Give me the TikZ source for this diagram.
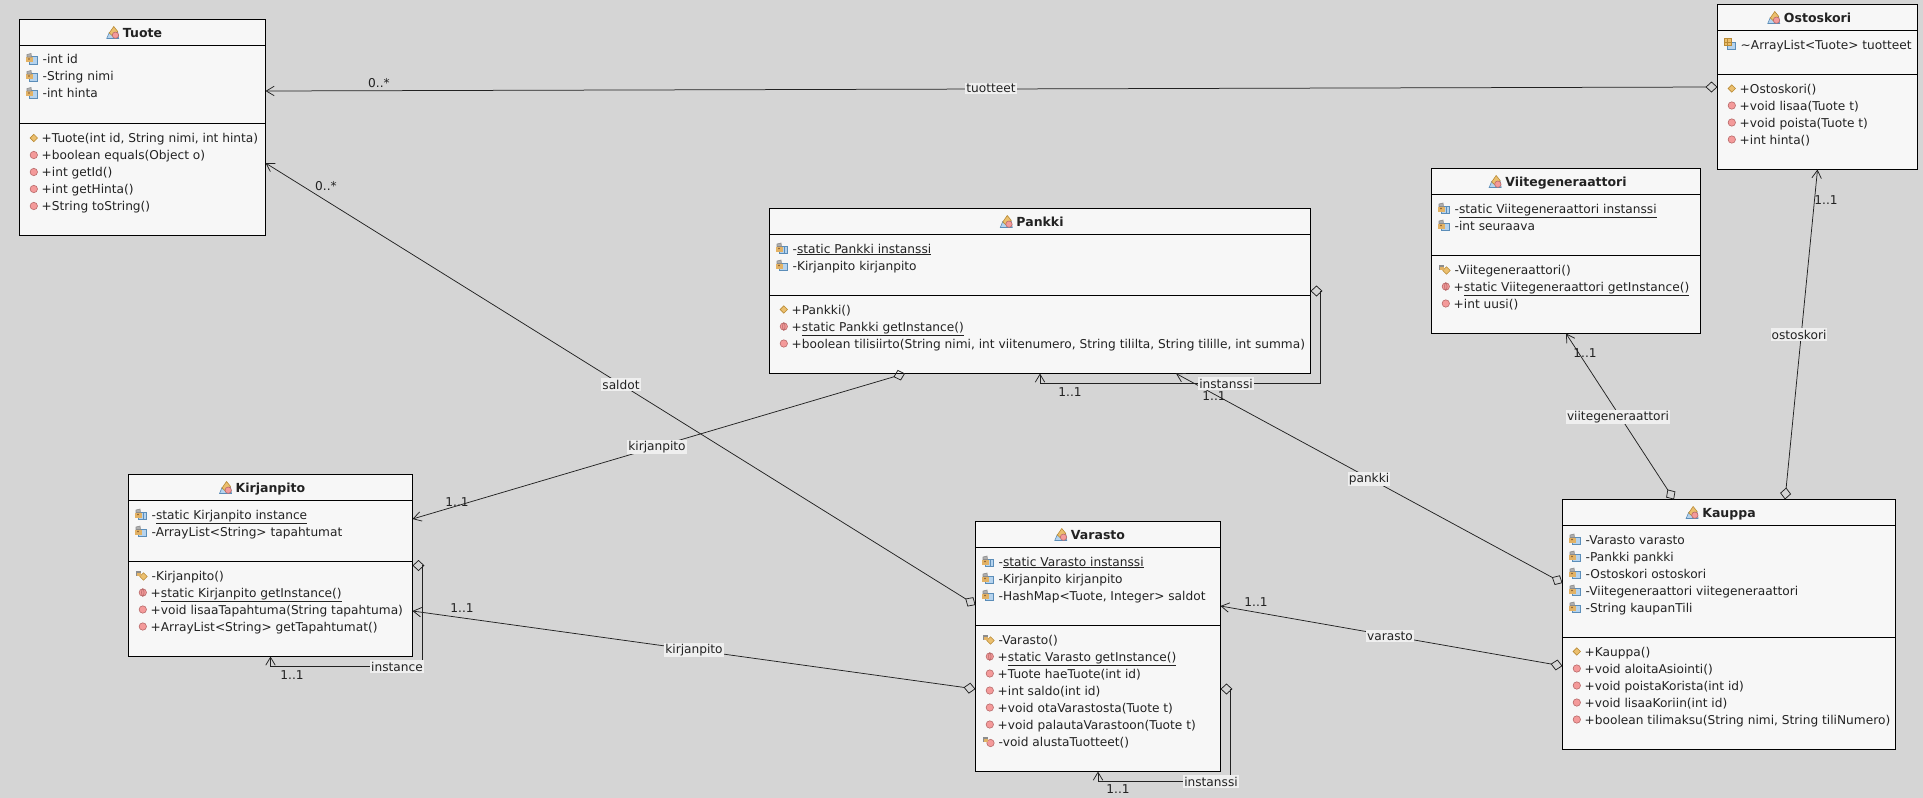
\documentclass[tikz,border=0pt]{standalone}
\usepackage{fontspec}
\setmainfont{DejaVu Sans}
\usetikzlibrary{arrows.meta}
\definecolor{bgc}{HTML}{D5D5D5}
\definecolor{boxc}{HTML}{F7F7F7}
\definecolor{txtc}{HTML}{222222}
\definecolor{labc}{HTML}{EFEFEF}
\definecolor{blueic}{HTML}{B5D3EE}
\definecolor{blueln}{HTML}{5B8DB8}
\definecolor{orgic}{HTML}{EBBF6E}
\definecolor{orgln}{HTML}{B98A35}
\definecolor{redic}{HTML}{F49A9A}
\definecolor{redln}{HTML}{B86A6A}
\definecolor{grayic}{HTML}{8C8C8C}
\tikzset{
  umlbox/.style={draw=black,fill=boxc,line width=1pt,inner sep=0pt,outer sep=0pt,anchor=north west},
  divider/.style={draw=black,line width=1pt},
  classtitle/.style={font=\bfseries\fontsize{12.5}{14}\selectfont,text=txtc,inner sep=0pt,anchor=base},
  memberrow/.style={font=\fontsize{12.18}{14}\selectfont,text=txtc,inner sep=0pt,anchor=base west},
  conn/.style={draw=txtc,line width=0.75pt},
  aggr/.style={conn,{Diamond[open,length=12pt,width=11pt,line width=0.75pt]}-{Straight Barb[length=8pt,width=9.5pt,line width=0.75pt]}},
  assoclabel/.style={font=\fontsize{12.18}{14}\selectfont,text=txtc,fill=labc,inner xsep=1pt,inner ysep=1.5pt,anchor=center},
  multlabel/.style={font=\fontsize{12.18}{14}\selectfont,text=txtc,inner sep=0pt,anchor=center}
}
% icons
\newcommand{\icLock}{%
  \fill[orgic!80!brown] (-6,-2) rectangle (0.5,3);
  \draw[grayic,fill=grayic!70!white,line width=0.6pt] (-5,-2) -- (-5,-4.5) -- (-1,-5.5) -- (-0.5,-2) -- cycle;
  \fill[brown!70!black] (-3,0) circle (0.8);}
\newcommand{\icBlue}{\draw[blueln,fill=blueic,line width=0.7pt] (-2.5,-2.5) rectangle (5.5,5);}
\newcommand{\icField}{\icBlue\icLock}
\newcommand{\icStaticField}{\draw[blueln,fill=blueic,line width=0.7pt] (-2.5,-2.5) rectangle (2,5);\draw[blueln,fill=blueic,line width=0.7pt] (2,-2.5) rectangle (5.5,5);\icLock}
\newcommand{\icPkgField}{\icBlue\draw[orgln,fill=orgic,line width=0.7pt] (-6,-6) rectangle (1,1);\draw[orgln,line width=0.5pt] (-2.5,-6) -- (-2.5,1) (-6,-2.5) -- (1,-2.5);}
\newcommand{\icDiamond}{\draw[orgln,fill=orgic,line width=0.6pt] (-3.7,0) -- (0,-3.7) -- (3.7,0) -- (0,3.7) -- cycle;}
\newcommand{\icCircle}{\draw[redln,fill=redic,line width=0.6pt] (0,0) circle (3.7);}
\newcommand{\icStaticCircle}{\icCircle\draw[redln,line width=0.7pt] (0,0) ellipse (1.2 and 3.7);}
\newcommand{\icSmallLock}{\begin{scope}[shift={(0.5,0)}]\fill[grayic] (-6,-5) rectangle (-0.5,0);\fill[orgic!80!brown] (-5,-3) rectangle (-1,0.5);\end{scope}}
\newcommand{\icPrivCtor}{\begin{scope}[shift={(2.5,1)}]\icDiamond\end{scope}\icSmallLock}
\newcommand{\icPrivMeth}{\begin{scope}[shift={(2.5,1.5)}]\icCircle\end{scope}\icSmallLock}
\newcommand{\icClass}{%
  \draw[blueln,fill=blueic,line width=0.6pt] (-6,6) -- (-3.5,0) -- (5,0) -- (6,6) -- cycle;
  \draw[orgln,fill=orgic,line width=0.6pt] (-3.5,0.5) -- (1,-6) -- (5,-1) -- (0.5,4) -- cycle;
  \draw[redln,fill=redic,line width=0.6pt] (2.7,2.7) circle (3.2);}
% class box: name, left, top, right, bottom, header line, separator, title
\newcommand{\umlclass}[8]{%
  \pgfmathsetmacro\boxw{#4-#2}\pgfmathsetmacro\boxh{#5-#3}%
  \node[umlbox,minimum width=\boxw pt,minimum height=\boxh pt] (#1) at (#2,#3) {};
  \draw[divider] (#2,#6) -- (#4,#6);
  \draw[divider] (#2,#7) -- (#4,#7);
  \node[classtitle] (#1title) at ({(#2+#4)/2},#3+17.5) {#8};
  \begin{scope}[shift={(#1title.base west)},shift={(-10,-4.5)}]\icClass\end{scope}%
}
\newcounter{rowc}
\newcommand{\rows}[2]{\xdef\rowL{#1}\xdef\rowY{#2}}
\newcommand{\member}[4]{% icon offset, text offset, icon, text
  \stepcounter{rowc}%
  \begin{scope}[shift={(\rowL+#1,\rowY)}]#3\end{scope}%
  \node[memberrow] (row\arabic{rowc}) at (\rowL+#2,\rowY+4.5) {#4};
  \pgfmathsetmacro\nextY{\rowY+17}\xdef\rowY{\nextY}%
}
\newcommand{\fld}[1]{\member{12.5}{23}{\icField}{#1}}
\newcommand{\sfld}[1]{\member{12.5}{23}{\icStaticField}{#1}}
\newcommand{\pfld}[1]{\member{12.5}{23}{\icPkgField}{#1}}
\newcommand{\ctor}[1]{\member{14.3}{22}{\icDiamond}{#1}}
\newcommand{\pctor}[1]{\member{12.5}{23}{\icPrivCtor}{#1}}
\newcommand{\meth}[1]{\member{14.3}{22}{\icCircle}{#1}}
\newcommand{\smeth}[1]{\member{14.3}{22}{\icStaticCircle}{#1}}
\newcommand{\pmeth}[1]{\member{12.5}{23}{\icPrivMeth}{#1}}
\begin{document}
\begin{tikzpicture}[x=1pt,y=-1pt]
\useasboundingbox[fill=bgc] (0,0) rectangle (1923,798);

% ---- classes
\umlclass{tuote}{19.5}{19.5}{265.5}{235.5}{45.5}{123.5}{Tuote}
\rows{19.5}{59}
\fld{-int id}\fld{-String nimi}\fld{-int hinta}
\rows{19.5}{138}
\ctor{+Tuote(int id, String nimi, int hinta)}\meth{+boolean equals(Object o)}\meth{+int getId()}\meth{+int getHinta()}\meth{+String toString()}

\umlclass{ostoskori}{1717.5}{4.5}{1917.5}{169.5}{30.5}{74.5}{Ostoskori}
\rows{1717.5}{44.5}
\pfld{\textasciitilde ArrayList<Tuote> tuotteet}
\rows{1717.5}{88.5}
\ctor{+Ostoskori()}\meth{+void lisaa(Tuote t)}\meth{+void poista(Tuote t)}\meth{+int hinta()}

\umlclass{viite}{1431.5}{168.5}{1700.5}{333.5}{194.5}{255.5}{Viitegeneraattori}
\rows{1431.5}{208.5}
\sfld{-\underline{static Viitegeneraattori instanssi}}\fld{-int seuraava}
\rows{1431.5}{269.5}
\pctor{-Viitegeneraattori()}\smeth{+\underline{static Viitegeneraattori getInstance()}}\meth{+int uusi()}

\umlclass{pankki}{769.5}{208.5}{1310.5}{373.5}{234.5}{295.5}{Pankki}
\rows{769.5}{248.5}
\sfld{-\underline{static Pankki instanssi}}\fld{-Kirjanpito kirjanpito}
\rows{769.5}{309.5}
\ctor{+Pankki()}\smeth{+\underline{static Pankki getInstance()}}\meth{+boolean tilisiirto(String nimi, int viitenumero, String tililta, String tilille, int summa)}

\umlclass{kirjanpito}{128.5}{474.5}{412.5}{656.5}{500.5}{561.5}{Kirjanpito}
\rows{128.5}{514.5}
\sfld{-\underline{static Kirjanpito instance}}\fld{-ArrayList<String> tapahtumat}
\rows{128.5}{575.5}
\pctor{-Kirjanpito()}\smeth{+\underline{static Kirjanpito getInstance()}}\meth{+void lisaaTapahtuma(String tapahtuma)}\meth{+ArrayList<String> getTapahtumat()}

\umlclass{varasto}{975.5}{521.5}{1220.5}{771.5}{547.5}{625.5}{Varasto}
\rows{975.5}{561.5}
\sfld{-\underline{static Varasto instanssi}}\fld{-Kirjanpito kirjanpito}\fld{-HashMap<Tuote, Integer> saldot}
\rows{975.5}{639.5}
\pctor{-Varasto()}\smeth{+\underline{static Varasto getInstance()}}\meth{+Tuote haeTuote(int id)}\meth{+int saldo(int id)}\meth{+void otaVarastosta(Tuote t)}\meth{+void palautaVarastoon(Tuote t)}\pmeth{-void alustaTuotteet()}

\umlclass{kauppa}{1562.5}{499.5}{1895.5}{749.5}{525.5}{637.5}{Kauppa}
\rows{1562.5}{539.5}
\fld{-Varasto varasto}\fld{-Pankki pankki}\fld{-Ostoskori ostoskori}\fld{-Viitegeneraattori viitegeneraattori}\fld{-String kaupanTili}
\rows{1562.5}{651.5}
\ctor{+Kauppa()}\meth{+void aloitaAsiointi()}\meth{+void poistaKorista(int id)}\meth{+void lisaaKoriin(int id)}\meth{+boolean tilimaksu(String nimi, String tiliNumero)}

% ---- connectors
\draw[aggr] (ostoskori.west) -- ([shift={(0,-36.5)}]tuote.east);
\draw[aggr] ([shift={(0,-41.5)}]varasto.west) -- ([shift={(0,35.5)}]tuote.east);
\draw[aggr] ([shift={(-135,0)}]pankki.south) -- ([shift={(0,-46.5)}]kirjanpito.east);
\draw[aggr] ([shift={(0,42.5)}]varasto.west) -- ([shift={(0,45.5)}]kirjanpito.east);
\draw[aggr] ([shift={(0,41.5)}]kauppa.west) -- ([shift={(0,-40.5)}]varasto.east);
\draw[aggr] ([shift={(0,-41.5)}]kauppa.west) -- ([shift={(136,0)}]pankki.south);
\draw[aggr] ([shift={(-55,0)}]kauppa.north) -- (viite.south);
\draw[aggr] ([shift={(56,0)}]kauppa.north) -- (ostoskori.south);
\draw[aggr] (pankki.east) -- ++(10,0) -- ++(0,92) -| (pankki.south);
\draw[aggr] (kirjanpito.east) -- ++(10,0) -- ++(0,100.5) -| (kirjanpito.south);
\draw[aggr] ([shift={(0,42.5)}]varasto.east) -- ++(10,0) -- ++(0,92) -| (varasto.south);

% ---- association names
\node[assoclabel] (ltuotteet) at (991,88.5) {tuotteet};
\node[assoclabel] (lsaldot) at (621,384.5) {saldot};
\node[assoclabel] (lkirja) at (657,447) {kirjanpito};
\node[assoclabel] (lkirjb) at (694,650) {kirjanpito};
\node[assoclabel] (lvarasto) at (1390,636) {varasto};
\node[assoclabel] (lpankki) at (1369,479) {pankki};
\node[assoclabel] (lviite) at (1618,417) {viitegeneraattori};
\node[assoclabel] (losto) at (1799,334.5) {ostoskori};
\node[assoclabel] (linsta) at (1226,383.5) {instanssi};
\node[assoclabel] (linstb) at (397,666.5) {instance};
\node[assoclabel] (linstc) at (1211,781.5) {instanssi};

% ---- multiplicities
\node[multlabel] (m1) at (379,83) {0..*};
\node[multlabel] (m2) at (326,186) {0..*};
\node[multlabel] (m3) at (457,502) {1..1};
\node[multlabel] (m4) at (462,608) {1..1};
\node[multlabel] (m5) at (292,675) {1..1};
\node[multlabel] (m6) at (1118,789) {1..1};
\node[multlabel] (m7) at (1070,392) {1..1};
\node[multlabel] (m8) at (1214,396) {1..1};
\node[multlabel] (m9) at (1256,602) {1..1};
\node[multlabel] (m10) at (1585,353) {1..1};
\node[multlabel] (m11) at (1826,200) {1..1};
\end{tikzpicture}
\end{document}
